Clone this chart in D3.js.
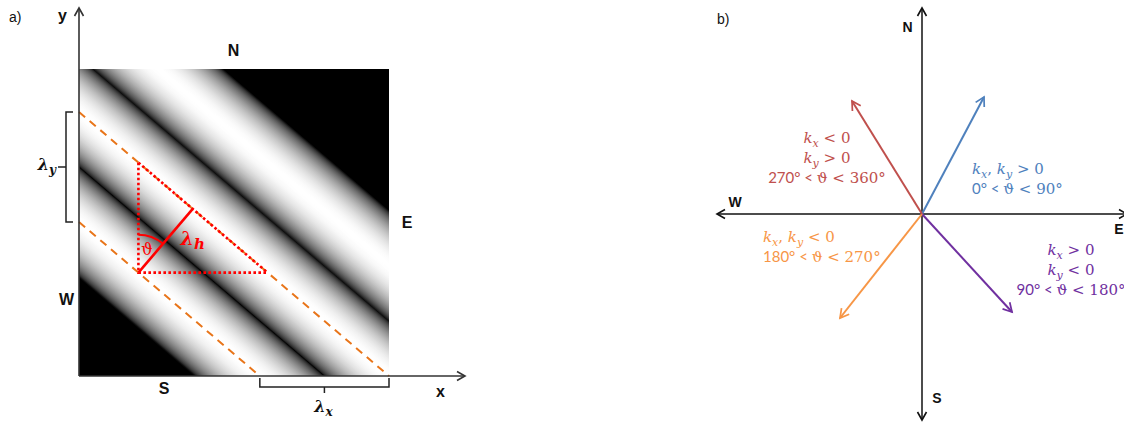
<!DOCTYPE html>
<html>
<head>
<meta charset="utf-8">
<script src="https://cdn.jsdelivr.net/npm/d3@7"></script>
<style>
  body { margin: 0; background: #fff; }
  svg { display: block; }
</style>
</head>
<body>
<svg id="fig" width="1124" height="422"></svg>
<script>
// ---------- panel a: a plane wave over a square field ----------
const fieldExtent = [0, 12];                 // x and y extent of the field
const lambdaX = 5;                           // horizontal wavelength
const lambdaY = 4.3;                         // vertical wavelength
const troughPhases = [0.9, 1.9, 2.9, 3.9];   // phase of the dark band edges
const crestPhases = [1.4, 2.4];              // phase of the dashed crest lines
const triangleCorner = [2.3, 4.04];          // right-angle corner of the wavelength triangle
const compassLabelsA = ["N", "E", "S", "W"];
const axisLabelsA = ["x", "y"];

// ---------- panel b: wave-vector quadrants ----------
const vectorKx = [0.62, 0.90, -0.82, -0.70];
const vectorKy = [1.17, -0.98, -1.04, 1.13];
const vectorColors = ["#4F81BD", "#7030A0", "#F79646", "#C0504D"];
const compassLabelsB = ["N", "E", "S", "W"];
// label lines: [text, style]  m = math italic, s = subscript, r = serif upright, n = sans
const vectorLabels = [
  [[["k","m"],["x","s"],[", ","r"],["k","m"],["y","s"],[" > 0","r"]],
   [["0° < ","n"],["ϑ < 90°","r"]]],
  [[["k","m"],["x","s"],[" > 0","r"]],
   [["k","m"],["y","s"],[" < 0","r"]],
   [["90° < ","n"],["ϑ < 180°","r"]]],
  [[["k","m"],["x","s"],[", ","r"],["k","m"],["y","s"],[" < 0","r"]],
   [["180° < ","n"],["ϑ < 270°","r"]]],
  [[["k","m"],["x","s"],[" < 0","r"]],
   [["k","m"],["y","s"],[" > 0","r"]],
   [["270° < ","n"],["ϑ < 360°","r"]]]
];
const labelX = [0.50, 1.49, -1.59, -0.95];
const labelY = [0.40, -0.41, -0.28, 0.71];
const labelAnchor = ["start", "middle", "start", "middle"];

const svg = d3.select("#fig");
const defs = svg.append("defs");
const SANS = "'Liberation Sans', Arial, sans-serif";
const SERIF = "'DejaVu Serif', serif";
const NUMSANS = "Lato, 'Open Sans', sans-serif";

function arrowMarker(id, color, size) {
  defs.append("marker")
    .attr("id", id)
    .attr("viewBox", "-10 -6 12 12")
    .attr("refX", 0).attr("refY", 0)
    .attr("markerWidth", size).attr("markerHeight", size)
    .attr("markerUnits", "userSpaceOnUse")
    .attr("orient", "auto")
    .append("path")
    .attr("d", "M-8,-4.5 L0,0 L-8,4.5")
    .attr("fill", "none")
    .attr("stroke", color)
    .attr("stroke-width", 1.6)
    .attr("stroke-linejoin", "miter");
}
arrowMarker("arrA", "#333", 12);
arrowMarker("arrB", "#111", 12);
vectorColors.forEach((c, i) => arrowMarker("vec" + i, c, 13));

// ================= panel a =================
const xA = d3.scaleLinear().domain(fieldExtent).range([79, 389]);
const yA = d3.scaleLinear().domain(fieldExtent).range([376, 69]);
const phase = (x, y) => x / lambdaX + y / lambdaY;

// brightness against phase: |sin| inside the banded zone (slightly lifted), black outside
function intensity(p) {
  const lo = troughPhases[0], hi = troughPhases[troughPhases.length - 1];
  if (p <= lo || p >= hi) return 0;
  const i = d3.bisectRight(troughPhases, p) - 1;
  const a = troughPhases[i], b = troughPhases[i + 1];
  return Math.pow(Math.abs(Math.sin(Math.PI * (p - a) / (b - a))), 0.6);
}

// gradient running along the phase direction in screen space
const gx = 1 / (lambdaX * (xA(1) - xA(0)));
const gy = 1 / (lambdaY * (yA(1) - yA(0)));
const g2 = gx * gx + gy * gy;
const pMin = 0, pMax = phase(fieldExtent[1], fieldExtent[1]) + 0.2;
const grad = defs.append("linearGradient")
  .attr("id", "wave")
  .attr("gradientUnits", "userSpaceOnUse")
  .attr("x1", xA(0)).attr("y1", yA(0))
  .attr("x2", xA(0) + (pMax - pMin) * gx / g2)
  .attr("y2", yA(0) + (pMax - pMin) * gy / g2);
const nStops = 400;
d3.range(nStops + 1).forEach(k => {
  const p = pMin + (pMax - pMin) * k / nStops;
  const v = Math.round(255 * intensity(p));
  grad.append("stop")
    .attr("offset", k / nStops)
    .attr("stop-color", d3.rgb(v, v, v).formatHex());
});

const gA = svg.append("g");
gA.append("rect")
  .attr("x", xA(fieldExtent[0])).attr("y", yA(fieldExtent[1]))
  .attr("width", xA(fieldExtent[1]) - xA(fieldExtent[0]))
  .attr("height", yA(fieldExtent[0]) - yA(fieldExtent[1]))
  .attr("fill", "url(#wave)");

// crest lines clipped to the field
function crestSegment(c) {
  const [lo, hi] = fieldExtent;
  const pts = [];
  const add = (x, y) => { if (x >= lo - 1e-9 && x <= hi + 1e-9 && y >= lo - 1e-9 && y <= hi + 1e-9) pts.push([x, y]); };
  add(lo, (c - lo / lambdaX) * lambdaY);
  add(hi, (c - hi / lambdaX) * lambdaY);
  add((c - lo / lambdaY) * lambdaX, lo);
  add((c - hi / lambdaY) * lambdaX, hi);
  pts.sort((a, b) => a[0] - b[0]);
  return [pts[0], pts[pts.length - 1]];
}
const line = d3.line().x(d => xA(d[0])).y(d => yA(d[1]));
gA.selectAll("path.crest").data(crestPhases).join("path")
  .attr("class", "crest")
  .attr("d", c => line(crestSegment(c)))
  .attr("fill", "none")
  .attr("stroke", "#E8751A")
  .attr("stroke-width", 2)
  .attr("stroke-dasharray", "8,6");

// wavelength triangle
const A = triangleCorner;
const B = [A[0], A[1] + lambdaY];
const C = [A[0] + lambdaX, A[1]];
const red = "#FF0000";
gA.append("path")
  .attr("d", line([B, A, C]))
  .attr("fill", "none").attr("stroke", red)
  .attr("stroke-width", 2.6).attr("stroke-dasharray", "2.6,2.4");
gA.append("path")
  .attr("d", line([B, C]))
  .attr("fill", "none").attr("stroke", red)
  .attr("stroke-width", 2.6).attr("stroke-dasharray", "2.6,2.4");

// perpendicular from the corner to the crest line (horizontal wavelength)
const Ap = [xA(A[0]), yA(A[1])], Bp = [xA(B[0]), yA(B[1])], Cp = [xA(C[0]), yA(C[1])];
const ux = Cp[0] - Bp[0], uy = Cp[1] - Bp[1];
const t = ((Ap[0] - Bp[0]) * ux + (Ap[1] - Bp[1]) * uy) / (ux * ux + uy * uy);
const F = [Bp[0] + t * ux, Bp[1] + t * uy];
gA.append("line")
  .attr("x1", Ap[0]).attr("y1", Ap[1]).attr("x2", F[0]).attr("y2", F[1])
  .attr("stroke", red).attr("stroke-width", 2.6);

// angle arc
const aEnd = Math.atan2(F[1] - Ap[1], F[0] - Ap[0]);
const aStart = -Math.PI / 2;
const arcPath = d3.path();
arcPath.arc(Ap[0], Ap[1], 38, aStart, aEnd, false);
gA.append("path").attr("d", arcPath.toString())
  .attr("fill", "none").attr("stroke", red).attr("stroke-width", 2);
const aMid = (aStart + aEnd) / 2;
gA.append("text")
  .attr("x", Ap[0] + 25 * Math.cos(aMid))
  .attr("y", Ap[1] + 25 * Math.sin(aMid) + 6)
  .attr("text-anchor", "middle")
  .attr("font-family", SERIF).attr("font-size", 16)
  .attr("fill", red).text("ϑ");

// lambda_h label
const lh = gA.append("text")
  .attr("x", (Ap[0] + F[0]) / 2 + 15).attr("y", (Ap[1] + F[1]) / 2 + 4)
  .attr("font-family", SERIF).attr("font-style", "italic").attr("font-weight", "bold")
  .attr("font-size", 19).attr("fill", red);
lh.append("tspan").text("λ");
lh.append("tspan").attr("dy", 4).attr("font-size", 15).text("h");

// axes
gA.append("line")
  .attr("x1", xA(0)).attr("y1", yA(0)).attr("x2", 465).attr("y2", yA(0))
  .attr("stroke", "#333").attr("stroke-width", 1.6).attr("marker-end", "url(#arrA)");
gA.append("line")
  .attr("x1", xA(0)).attr("y1", yA(0)).attr("x2", xA(0)).attr("y2", 8)
  .attr("stroke", "#333").attr("stroke-width", 1.6).attr("marker-end", "url(#arrA)");

// lambda_y bracket between crest lines on the left edge
const segs = crestPhases.map(crestSegment);
const yTop = yA(segs[1][0][1]), yBot = yA(segs[0][0][1]);
const bx = xA(0) - 13;
const pyb = d3.path();
pyb.moveTo(bx + 7, yTop); pyb.lineTo(bx, yTop); pyb.lineTo(bx, yBot); pyb.lineTo(bx + 7, yBot);
pyb.moveTo(bx, (yTop + yBot) / 2); pyb.lineTo(bx - 8, (yTop + yBot) / 2);
gA.append("path").attr("d", pyb.toString())
  .attr("fill", "none").attr("stroke", "#222").attr("stroke-width", 1.5);
const ly = gA.append("text")
  .attr("x", bx - 10).attr("y", (yTop + yBot) / 2 + 3)
  .attr("text-anchor", "end")
  .attr("font-family", SERIF).attr("font-style", "italic").attr("font-weight", "bold")
  .attr("font-size", 16).attr("fill", "#111");
ly.append("tspan").text("λ");
ly.append("tspan").attr("dy", 4).attr("font-size", 12).text("y");

// lambda_x bracket between crest lines on the bottom edge
const xL = xA(segs[0][1][0]), xR = xA(segs[1][1][0]);
const byy = yA(0) + 11;
const pxb = d3.path();
pxb.moveTo(xL, byy - 9); pxb.lineTo(xL, byy); pxb.lineTo(xR, byy); pxb.lineTo(xR, byy - 9);
pxb.moveTo((xL + xR) / 2, byy); pxb.lineTo((xL + xR) / 2, byy + 6);
gA.append("path").attr("d", pxb.toString())
  .attr("fill", "none").attr("stroke", "#222").attr("stroke-width", 1.5);
const lx = gA.append("text")
  .attr("x", (xL + xR) / 2 - 1).attr("y", 412)
  .attr("text-anchor", "middle")
  .attr("font-family", SERIF).attr("font-style", "italic").attr("font-weight", "bold")
  .attr("font-size", 16).attr("fill", "#111");
lx.append("tspan").text("λ");
lx.append("tspan").attr("dy", 4).attr("font-size", 12).text("x");

// compass and axis names
const compassPosA = { N: [233.5, 56], E: [407, 228], S: [164, 394], W: [66.5, 305] };
gA.selectAll("text.compass").data(compassLabelsA).join("text")
  .attr("class", "compass")
  .attr("x", d => compassPosA[d][0]).attr("y", d => compassPosA[d][1])
  .attr("text-anchor", "middle")
  .attr("font-family", SANS).attr("font-weight", "bold").attr("font-size", 16)
  .attr("fill", "#111").text(d => d);
const axisPosA = { x: [440.5, 397], y: [62.5, 21] };
gA.selectAll("text.axname").data(axisLabelsA).join("text")
  .attr("class", "axname")
  .attr("x", d => axisPosA[d][0]).attr("y", d => axisPosA[d][1])
  .attr("text-anchor", "middle")
  .attr("font-family", SANS).attr("font-weight", "bold").attr("font-size", 16)
  .attr("fill", "#111").text(d => d);
gA.append("text").attr("x", 9).attr("y", 22)
  .attr("font-family", SANS).attr("font-size", 14).attr("fill", "#111").text("a)");

// ================= panel b =================
const xB = d3.scaleLinear().domain([-2.05, 2.05]).range([717, 1127]);
const yB = d3.scaleLinear().domain([-2.06, 2.06]).range([420, 8]);
const gB = svg.append("g");

gB.append("line")
  .attr("x1", xB(0)).attr("y1", yB(0)).attr("x2", xB(-2.05)).attr("y2", yB(0))
  .attr("stroke", "#111").attr("stroke-width", 1.5).attr("marker-end", "url(#arrB)");
gB.append("line")
  .attr("x1", xB(0)).attr("y1", yB(0)).attr("x2", xB(2.05)).attr("y2", yB(0))
  .attr("stroke", "#111").attr("stroke-width", 1.5).attr("marker-end", "url(#arrB)");
gB.append("line")
  .attr("x1", xB(0)).attr("y1", yB(0)).attr("x2", xB(0)).attr("y2", yB(2.06))
  .attr("stroke", "#111").attr("stroke-width", 1.5).attr("marker-end", "url(#arrB)");
gB.append("line")
  .attr("x1", xB(0)).attr("y1", yB(0)).attr("x2", xB(0)).attr("y2", yB(-2.06))
  .attr("stroke", "#111").attr("stroke-width", 1.5).attr("marker-end", "url(#arrB)");

gB.selectAll("line.vec").data(d3.range(vectorKx.length)).join("line")
  .attr("class", "vec")
  .attr("x1", xB(0)).attr("y1", yB(0))
  .attr("x2", i => xB(vectorKx[i])).attr("y2", i => yB(vectorKy[i]))
  .attr("stroke", i => vectorColors[i]).attr("stroke-width", 2)
  .attr("marker-end", i => `url(#vec${i})`);

const compassPosB = { N: [907.5, 32], E: [1119, 234], S: [937, 403], W: [735, 207] };
gB.selectAll("text.compass").data(compassLabelsB).join("text")
  .attr("class", "compass")
  .attr("x", d => compassPosB[d][0]).attr("y", d => compassPosB[d][1])
  .attr("text-anchor", "middle")
  .attr("font-family", SANS).attr("font-weight", "bold").attr("font-size", 14)
  .attr("fill", "#111").text(d => d);
gB.append("text").attr("x", 717).attr("y", 24)
  .attr("font-family", SANS).attr("font-size", 14).attr("fill", "#111").text("b)");

// quadrant labels
vectorLabels.forEach((lines, i) => {
  lines.forEach((segsL, j) => {
    const txt = gB.append("text")
      .attr("x", xB(labelX[i])).attr("y", yB(labelY[i]) + j * 20)
      .attr("text-anchor", labelAnchor[i])
      .attr("fill", vectorColors[i])
      .attr("font-size", 15);
    let shifted = false;
    segsL.forEach(([s, style]) => {
      const ts = txt.append("tspan").text(s);
      if (style === "s") {
        ts.attr("font-family", SERIF).attr("font-style", "italic").attr("font-size", 11);
        if (!shifted) { ts.attr("dy", 4); shifted = true; }
      } else {
        if (shifted) { ts.attr("dy", -4); shifted = false; }
        if (style === "m") ts.attr("font-family", SERIF).attr("font-style", "italic");
        else if (style === "r") ts.attr("font-family", SERIF);
        else ts.attr("font-family", NUMSANS);
      }
    });
  });
});
</script>
</body>
</html>
